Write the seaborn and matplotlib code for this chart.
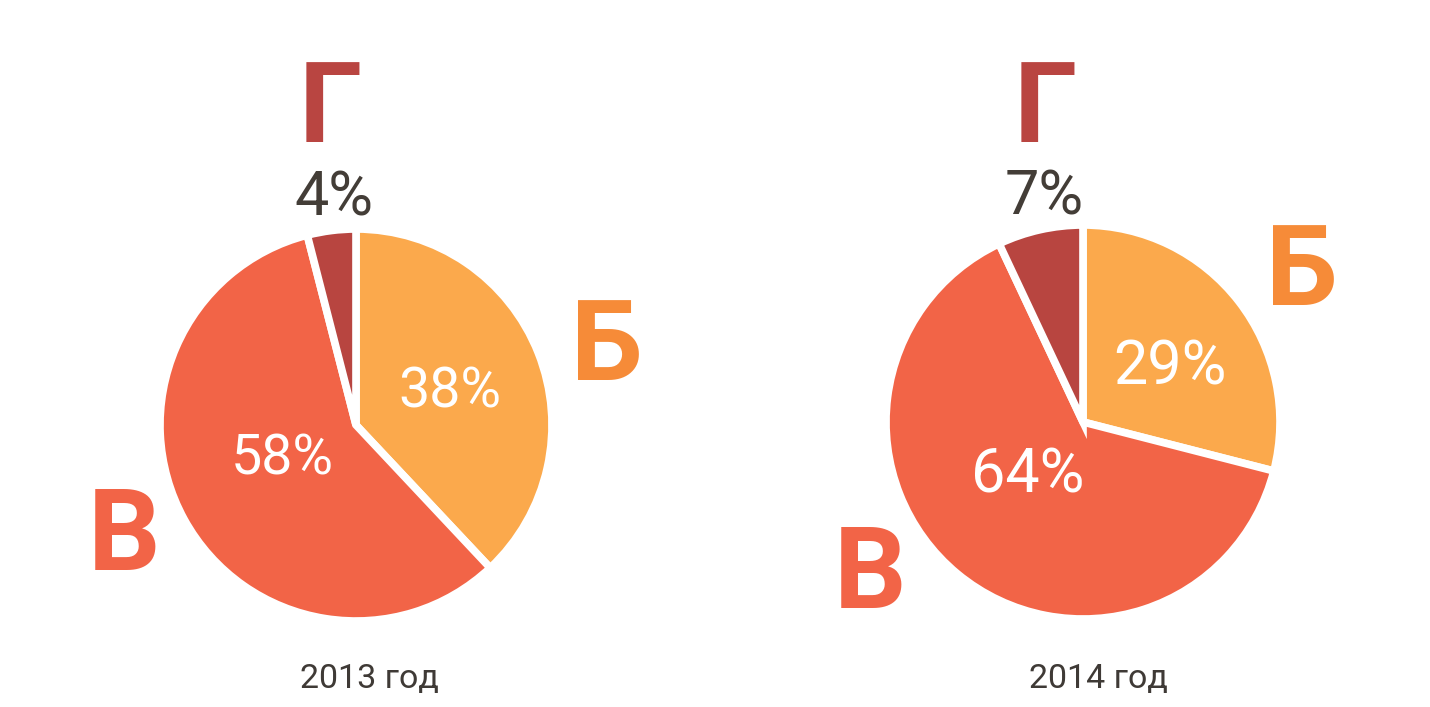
import matplotlib
matplotlib.use("Agg")
import matplotlib.pyplot as plt
import seaborn as sns

# ---- data ----
categories = ["Б", "В", "Г"]
values_2013 = [38, 58, 4]
values_2014 = [29, 64, 7]
years = ["2013 год", "2014 год"]

sns.set_theme(style="white")
plt.rcParams["font.family"] = ["Roboto", "DejaVu Sans"]

wedge_colors = sns.color_palette(["#FBA94C", "#F26447", "#B84540"])
label_colors = ["#F68B38", "#F26447", "#B94541"]
pct_dark = "#433D37"
year_color = "#3F3A36"

W, H = 1430, 707
fig = plt.figure(figsize=(W / 100, H / 100), dpi=100)
fig.patch.set_facecolor("white")

# layout: pie centre / radius in pixels, panel x-range in pixels
panels = [
    dict(values=values_2013, year=years[0], cx=356, cy=425, r=196, x0=0, x1=715,
         inner_size=40,
         pos={"Б": (1.281, 0.230), "В": (-1.184, -0.740), "Г": (-0.133, 1.444)},
         outer_pct=(-0.112, 1.071),
         inner={"Б": (0.480, 0.087), "В": (-0.378, -0.255)},
         year_pos=(0.071, -1.342)),
    dict(values=values_2014, year=years[1], cx=1083, cy=422, r=197, x0=715, x1=1430,
         inner_size=44,
         pos={"Б": (1.112, 0.594), "В": (-1.081, -0.944), "Г": (-0.193, 1.421)},
         outer_pct=(-0.198, 1.051),
         inner={"Б": (0.442, 0.188), "В": (-0.279, -0.360)},
         year_pos=(0.076, -1.350)),
]

for p in panels:
    ax = fig.add_axes([p["x0"] / W, 0, (p["x1"] - p["x0"]) / W, 1])
    ax.pie(p["values"], colors=wedge_colors, startangle=90, counterclock=False,
           radius=1, wedgeprops=dict(edgecolor="white", linewidth=5.5))
    r = p["r"]
    ax.set_xlim((p["x0"] - p["cx"]) / r, (p["x1"] - p["cx"]) / r)
    ax.set_ylim((p["cy"] - H) / r, p["cy"] / r)
    ax.set_aspect("auto")
    ax.axis("off")

    for cat, val, col in zip(categories, p["values"], label_colors):
        x, y = p["pos"][cat]
        ax.text(x, y, cat, ha="center", va="baseline", fontsize=82,
                fontweight="bold", color=col)
        if cat in p["inner"]:
            ix, iy = p["inner"][cat]
            ax.text(ix, iy, f"{val}%", ha="center", va="baseline",
                    fontsize=p["inner_size"], color="white")
        else:
            ox, oy = p["outer_pct"]
            ax.text(ox, oy, f"{val}%", ha="center", va="baseline",
                    fontsize=44, color=pct_dark)
    yx, yy = p["year_pos"]
    ax.text(yx, yy, p["year"], ha="center", va="baseline", fontsize=24.5,
            color=year_color)

fig.savefig("out.png", dpi=100, facecolor="white")
